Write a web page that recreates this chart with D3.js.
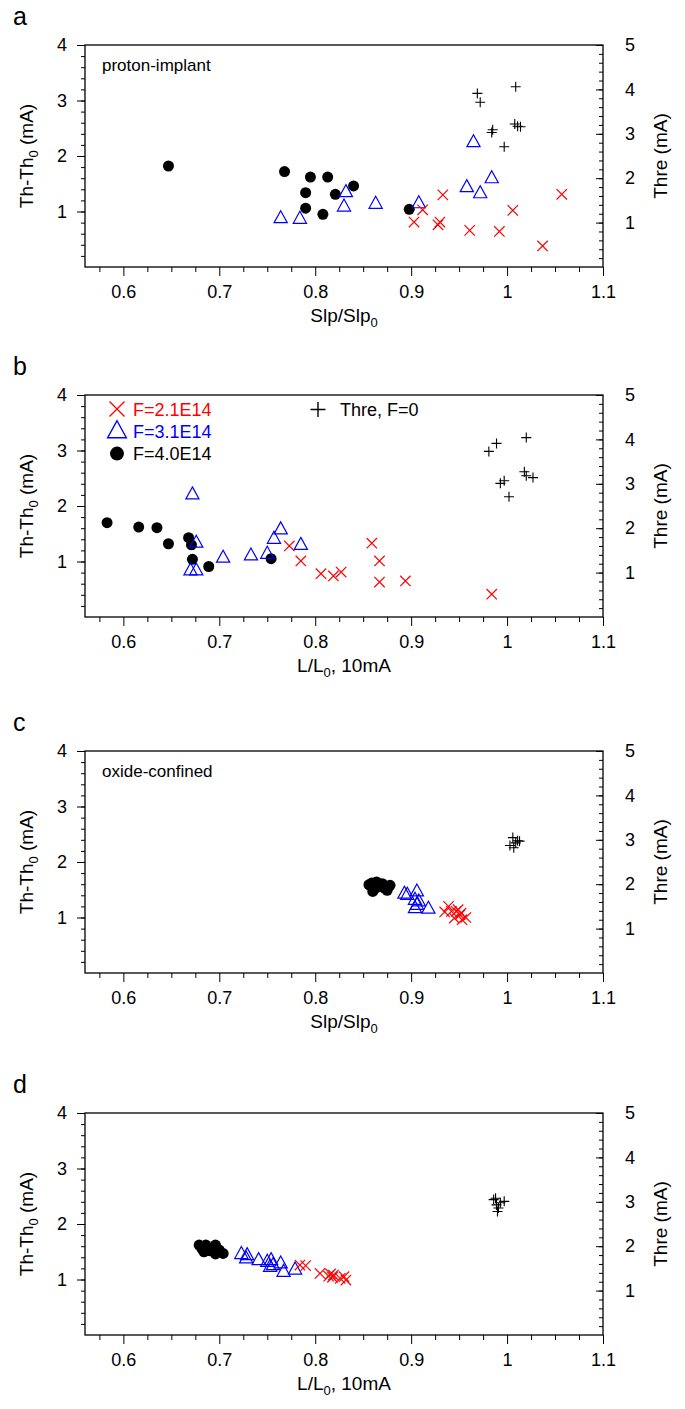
<!DOCTYPE html>
<html>
<head>
<meta charset="utf-8">
<script src="https://cdn.jsdelivr.net/npm/d3@7"></script>
<style>
  body { margin: 0; background: #fff; }
  svg text { font-family: "Liberation Sans", Arial, Helvetica, sans-serif; fill: #000; }
</style>
</head>
<body>
<svg id="chart" width="685" height="1409"></svg>
<script>
// ---- axis ticks ----
const xTicks = [0.6, 0.7, 0.8, 0.9, 1, 1.1];
const xTickLabels = ['0.6', '0.7', '0.8', '0.9', '1', '1.1'];
const leftTicks = [1, 2, 3, 4];
const rightTicks = [1, 2, 3, 4, 5];

// ---- a: proton-implant, Slp/Slp0 ----
const aBlackX = [0.647, 0.768, 0.795, 0.813, 0.790, 0.821, 0.840, 0.790, 0.808, 0.898];
const aBlackY = [1.82, 1.72, 1.62, 1.62, 1.34, 1.31, 1.46, 1.06, 0.95, 1.04];
const aBlueX = [0.764, 0.784, 0.830, 0.832, 0.863, 0.908, 0.965, 0.958, 0.972, 0.984];
const aBlueY = [0.88, 0.87, 1.09, 1.35, 1.14, 1.15, 2.25, 1.44, 1.33, 1.60];
const aRedX = [0.903, 0.912, 0.928, 0.930, 0.933, 0.961, 0.992, 1.006, 1.037, 1.057];
const aRedY = [0.81, 1.03, 0.76, 0.81, 1.30, 0.66, 0.64, 1.02, 0.38, 1.31];
const aThreX = [0.969, 0.972, 1.009, 0.985, 0.984, 1.008, 1.011, 1.014, 0.997];
const aThreY = [3.91, 3.71, 4.06, 3.09, 3.03, 3.22, 3.17, 3.16, 2.71];

// ---- b: proton-implant, L/L0 ----
const bBlackX = [0.583, 0.616, 0.635, 0.647, 0.668, 0.671, 0.672, 0.689, 0.754];
const bBlackY = [1.70, 1.62, 1.61, 1.32, 1.43, 1.30, 1.04, 0.91, 1.05];
const bBlueX = [0.672, 0.676, 0.670, 0.676, 0.704, 0.733, 0.750, 0.757, 0.764, 0.785];
const bBlueY = [2.21, 1.34, 0.84, 0.84, 1.07, 1.11, 1.14, 1.41, 1.58, 1.30];
const bRedX = [0.773, 0.785, 0.806, 0.819, 0.827, 0.859, 0.867, 0.867, 0.894, 0.984];
const bRedY = [1.28, 1.01, 0.78, 0.74, 0.81, 1.33, 1.01, 0.63, 0.65, 0.41];
const bThreX = [0.981, 0.989, 1.020, 0.993, 0.997, 1.018, 1.020, 1.027, 1.002];
const bThreY = [3.73, 3.91, 4.04, 3.01, 3.07, 3.27, 3.18, 3.14, 2.71];

// ---- c: oxide-confined, Slp/Slp0 ----
const cBlackX = [0.856, 0.859, 0.860, 0.863, 0.864, 0.866, 0.870, 0.872, 0.875, 0.878];
const cBlackY = [1.59, 1.62, 1.47, 1.53, 1.64, 1.56, 1.61, 1.53, 1.49, 1.58];
const cBlueX = [0.893, 0.896, 0.906, 0.904, 0.908, 0.906, 0.904, 0.918];
const cBlueY = [1.43, 1.41, 1.47, 1.32, 1.29, 1.23, 1.17, 1.16];
const cRedX = [0.939, 0.942, 0.935, 0.947, 0.949, 0.951, 0.952, 0.953, 0.957, 0.945];
const cRedY = [1.20, 1.11, 1.10, 1.11, 1.14, 1.05, 1.08, 0.96, 1.00, 0.99];
const cThreX = [1.003, 1.006, 1.011, 1.007, 1.013, 1.009];
const cThreY = [2.87, 3.05, 2.98, 2.82, 2.97, 2.93];

// ---- d: oxide-confined, L/L0 ----
const dBlackX = [0.679, 0.682, 0.686, 0.684, 0.690, 0.692, 0.696, 0.696, 0.700, 0.704];
const dBlackY = [1.62, 1.55, 1.62, 1.50, 1.52, 1.56, 1.62, 1.46, 1.53, 1.47];
const dBlueX = [0.723, 0.729, 0.728, 0.741, 0.750, 0.754, 0.753, 0.756, 0.764, 0.767, 0.779];
const dBlueY = [1.46, 1.44, 1.38, 1.35, 1.32, 1.35, 1.23, 1.26, 1.29, 1.14, 1.18];
const dRedX = [0.784, 0.790, 0.805, 0.814, 0.816, 0.818, 0.819, 0.826, 0.830, 0.832];
const dRedY = [1.26, 1.25, 1.11, 1.06, 1.10, 1.04, 1.08, 1.02, 1.05, 0.99];
const dThreX = [0.986, 0.988, 0.989, 0.990, 0.991, 0.993, 0.997];
const dThreY = [3.05, 3.08, 2.93, 2.78, 2.86, 2.98, 3.01];

const zip = (xs, ys) => xs.map((x, i) => ({x: x, y: ys[i]}));

const panels = [
  {letter: 'a', top: 45, xTitle: ['Slp/Slp', '0', ''], note: 'proton-implant',
   black: zip(aBlackX, aBlackY), blue: zip(aBlueX, aBlueY), red: zip(aRedX, aRedY), thre: zip(aThreX, aThreY)},
  {letter: 'b', top: 395, xTitle: ['L/L', '0', ', 10mA'], legend: true,
   black: zip(bBlackX, bBlackY), blue: zip(bBlueX, bBlueY), red: zip(bRedX, bRedY), thre: zip(bThreX, bThreY)},
  {letter: 'c', top: 751, xTitle: ['Slp/Slp', '0', ''], note: 'oxide-confined',
   black: zip(cBlackX, cBlackY), blue: zip(cBlueX, cBlueY), red: zip(cRedX, cRedY), thre: zip(cThreX, cThreY)},
  {letter: 'd', top: 1113, xTitle: ['L/L', '0', ', 10mA'],
   black: zip(dBlackX, dBlackY), blue: zip(dBlueX, dBlueY), red: zip(dRedX, dRedY), thre: zip(dThreX, dThreY)}
];

const left = 85, right = 603, plotH = 222;
const svg = d3.select('#chart');

// marker paths
const triPath = s => `M0,${-s * 0.62}L${s * 0.55},${s * 0.38}L${-s * 0.55},${s * 0.38}Z`;
const crossPath = s => `M${-s},${-s}L${s},${s}M${-s},${s}L${s},${-s}`;
const plusPath = s => `M${-s},0L${s},0M0,${-s}L0,${s}`;

// minor tick positions (skip the majors)
const xMinor = d3.range(23, 44).map(k => k * 0.025).filter(v => Math.abs(v * 10 - Math.round(v * 10)) > 1e-6);
const yLMinor = d3.range(1, 20).map(k => k * 0.2);
const yRMinor = d3.range(1, 25).map(k => k * 0.2);

panels.forEach(p => {
  const x = d3.scaleLinear().domain([0.56, 1.1]).range([left, right]);
  const yL = d3.scaleLinear().domain([0, 4]).range([p.top + plotH, p.top]);
  const yR = d3.scaleLinear().domain([0, 5]).range([p.top + plotH, p.top]);
  const g = svg.append('g');

  // bottom axis: majors + minors
  g.append('g')
   .attr('transform', `translate(0,${p.top + plotH})`)
   .call(d3.axisBottom(x).tickValues(xTicks).tickSize(9).tickPadding(9)
         .tickFormat((d, i) => xTickLabels[i]))
   .call(a => a.select('.domain').remove())
   .call(a => a.selectAll('text').attr('font-size', 18));
  g.append('g')
   .attr('transform', `translate(0,${p.top + plotH})`)
   .call(d3.axisBottom(x).tickValues(xMinor).tickSize(5).tickFormat(''))
   .call(a => a.select('.domain').remove());

  // left axis
  g.append('g')
   .attr('transform', `translate(${left},0)`)
   .call(d3.axisLeft(yL).tickValues(leftTicks).tickSize(8).tickPadding(10).tickFormat(d3.format('d')))
   .call(a => a.select('.domain').remove())
   .call(a => a.selectAll('text').attr('font-size', 18));
  g.append('g')
   .attr('transform', `translate(${left},0)`)
   .call(d3.axisLeft(yL).tickValues(yLMinor).tickSize(4).tickFormat(''))
   .call(a => a.select('.domain').remove());

  // right axis, ticks inside
  g.append('g')
   .attr('transform', `translate(${right},0)`)
   .call(d3.axisRight(yR).tickValues(rightTicks).tickSizeInner(-7).tickSizeOuter(0).tickPadding(22).tickFormat(d3.format('d')))
   .call(a => a.select('.domain').remove())
   .call(a => a.selectAll('text').attr('font-size', 18));
  g.append('g')
   .attr('transform', `translate(${right},0)`)
   .call(d3.axisRight(yR).tickValues(yRMinor).tickSizeInner(-4).tickSizeOuter(0).tickFormat(''))
   .call(a => a.select('.domain').remove());

  g.selectAll('.tick line').attr('stroke', '#000').attr('stroke-width', 1);

  // frame
  g.append('rect')
   .attr('x', left).attr('y', p.top)
   .attr('width', right - left).attr('height', plotH)
   .attr('fill', 'none').attr('stroke', '#000').attr('stroke-width', 1.3);

  // titles
  const xt = g.append('text')
   .attr('x', (left + right) / 2).attr('y', p.top + plotH + 55)
   .attr('text-anchor', 'middle').attr('font-size', 19);
  xt.append('tspan').text(p.xTitle[0]);
  xt.append('tspan').attr('font-size', 13).attr('dy', 5).text(p.xTitle[1]);
  xt.append('tspan').attr('dy', -5).text(p.xTitle[2]);

  const yt = g.append('text')
   .attr('transform', `translate(33,${p.top + plotH / 2}) rotate(-90)`)
   .attr('text-anchor', 'middle').attr('font-size', 19);
  yt.append('tspan').text('Th-Th');
  yt.append('tspan').attr('font-size', 13).attr('dy', 5).text('0');
  yt.append('tspan').attr('dy', -5).text(' (mA)');

  g.append('text')
   .attr('transform', `translate(667,${p.top + plotH / 2}) rotate(-90)`)
   .attr('text-anchor', 'middle').attr('font-size', 19)
   .text('Thre (mA)');

  g.append('text')
   .attr('x', 13).attr('y', p.top - 20)
   .attr('font-size', 25).text(p.letter);

  if (p.note) {
    g.append('text').attr('x', 102).attr('y', p.top + 26)
     .attr('font-size', 17).text(p.note);
  }

  // data marks
  g.selectAll('.dot').data(p.black).enter().append('circle')
   .attr('cx', d => x(d.x)).attr('cy', d => yL(d.y)).attr('r', 5.5).attr('fill', '#000');
  g.selectAll('.tri').data(p.blue).enter().append('path')
   .attr('transform', d => `translate(${x(d.x)},${yL(d.y)})`)
   .attr('d', triPath(12)).attr('fill', 'none').attr('stroke', '#0000ff').attr('stroke-width', 1.2);
  g.selectAll('.cross').data(p.red).enter().append('path')
   .attr('transform', d => `translate(${x(d.x)},${yL(d.y)})`)
   .attr('d', crossPath(5.2)).attr('stroke', '#ff0000').attr('stroke-width', 1.2);
  g.selectAll('.plus').data(p.thre).enter().append('path')
   .attr('transform', d => `translate(${x(d.x)},${yR(d.y)})`)
   .attr('d', plusPath(5)).attr('stroke', '#000').attr('stroke-width', 1.1);

  if (p.legend) {
    const rows = [
      {label: 'F=2.1E14', color: '#ff0000', kind: 'cross'},
      {label: 'F=3.1E14', color: '#0000ff', kind: 'tri'},
      {label: 'F=4.0E14', color: '#000', kind: 'dot'}
    ];
    rows.forEach((r, i) => {
      const cy = p.top + 14 + i * 22.3;
      if (r.kind === 'dot') {
        g.append('circle').attr('cx', 117).attr('cy', cy).attr('r', 7).attr('fill', '#000');
      } else if (r.kind === 'tri') {
        g.append('path').attr('transform', `translate(117,${cy})`).attr('d', triPath(17))
         .attr('fill', 'none').attr('stroke', r.color).attr('stroke-width', 1.4);
      } else {
        g.append('path').attr('transform', `translate(117,${cy})`).attr('d', crossPath(7.5))
         .attr('stroke', r.color).attr('stroke-width', 1.4);
      }
      g.append('text').attr('x', 133).attr('y', cy + 6.5).attr('font-size', 18)
       .style('fill', r.color).text(r.label);
    });
    const ty = p.top + 14.5;
    g.append('path').attr('transform', `translate(318,${ty})`).attr('d', plusPath(7.5))
     .attr('stroke', '#000').attr('stroke-width', 1.4);
    g.append('text').attr('x', 340).attr('y', ty + 6.5).attr('font-size', 18).text('Thre, F=0');
  }
});
</script>
</body>
</html>
